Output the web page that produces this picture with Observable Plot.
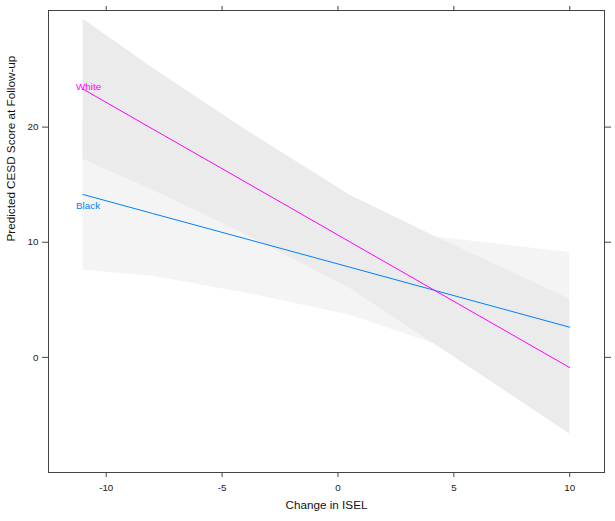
<!DOCTYPE html>
<html><head><meta charset="utf-8">
<script src="https://cdn.jsdelivr.net/npm/d3@7"></script>
<script src="https://cdn.jsdelivr.net/npm/@observablehq/plot@0.6"></script>
<style>body{margin:0;background:#fff;} svg{display:block;}</style>
</head><body><div id="chart"></div>
<script>
const xGrid = [-11, -8, -4, 0.5, 4.3, 10];
const whiteFit = [23.3, 19.84, 15.24, 10.05, 5.67, -0.89];
const whiteLower = [17.2, 14.54, 10.69, 6.0, 0.97, -6.65];
const whiteUpper = [29.4, 25.14, 19.79, 14.1, 10.4, 5.05];
const blackFit = [14.15, 12.5, 10.31, 7.84, 5.75, 2.62];
const blackLower = [7.6, 7.05, 5.6, 3.69, 1.07, -3.88];
const blackUpper = [20.7, 17.95, 15.0, 11.99, 10.43, 9.12];
const groups = ["Black", "White"];
const groupColors = ["#0080ff", "#ff00ff"];
const bandFills = ["#f4f4f4", "#ebebeb"];
const labelX = [-11.3, -11.3];
const labelY = [13.2, 23.5];
const xTicks = [-10, -5, 0, 5, 10];
const yTicks = [0, 10, 20];
const xTitle = "Change in ISEL";
const yTitle = "Predicted CESD Score at Follow-up";

const series = {
  Black: {fit: blackFit, lo: blackLower, hi: blackUpper},
  White: {fit: whiteFit, lo: whiteLower, hi: whiteUpper}
};
const rowsFor = g => xGrid.map((x, i) => ({group: g, x, fit: series[g].fit[i], lo: series[g].lo[i], hi: series[g].hi[i]}));

const font = "'Liberation Sans', Arial, Helvetica, sans-serif";
const marks = [];
groups.forEach((g, k) => marks.push(Plot.areaY(rowsFor(g), {x: "x", y1: "lo", y2: "hi", fill: bandFills[k]})));
groups.forEach((g, k) => marks.push(Plot.line(rowsFor(g), {x: "x", y: "fit", stroke: groupColors[k], strokeWidth: 1})));
groups.forEach((g, k) => marks.push(Plot.text([g], {x: () => labelX[k], y: () => labelY[k], text: d => d, fill: groupColors[k], textAnchor: "start", fontSize: 9.8})));

const chart = Plot.plot({
  width: 615, height: 521,
  marginLeft: 48, marginRight: 11, marginTop: 10, marginBottom: 49,
  x: {domain: [-12.49, 11.5]},
  y: {domain: [-10.0, 30.13]},
  style: {fontFamily: font, fontSize: "9.8px", color: "#222", background: "white"},
  marks: [
    ...marks,
    Plot.frame({stroke: "#444"}),
    Plot.axisX({ticks: xTicks, anchor: "bottom", tickSize: 5, tickPadding: 7, tickFormat: d => String(d), label: null, stroke: "#444", fill: "#222"}),
    Plot.axisX({ticks: xTicks, anchor: "top", tickSize: 5, tickFormat: () => "", label: null, stroke: "#444"}),
    Plot.axisY({ticks: yTicks, anchor: "left", tickSize: 6, tickPadding: 4, tickFormat: d => String(d), label: null, stroke: "#444", fill: "#222"}),
    Plot.axisY({ticks: yTicks, anchor: "right", tickSize: 6, tickFormat: () => "", label: null, stroke: "#444"}),
    Plot.text([xTitle], {frameAnchor: "bottom", dy: 36, text: d => d, fontSize: 11.7, fill: "#111"}),
    Plot.text([yTitle], {frameAnchor: "left", dx: -37, rotate: -90, text: d => d, fontSize: 11.7, fill: "#111"})
  ]
});
document.getElementById("chart").appendChild(chart);
</script>
</body></html>
